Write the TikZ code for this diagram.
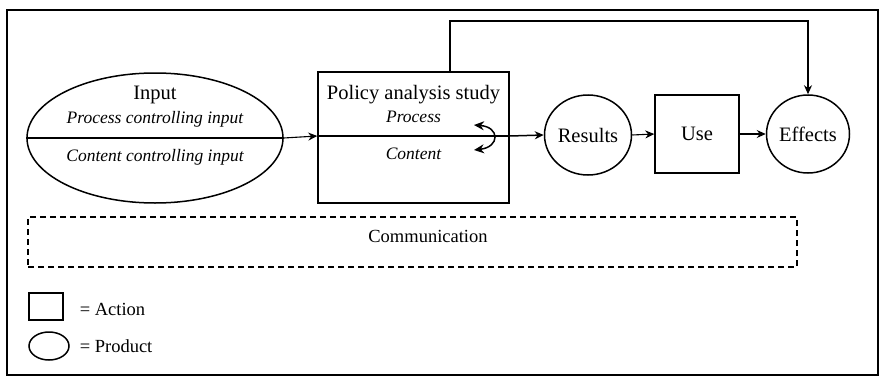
\documentclass[tikz,border=0pt]{standalone}
\usepackage{fontspec}
\setmainfont{Liberation Serif}
\usetikzlibrary{arrows.meta,shapes.geometric}
\begin{document}
\begin{tikzpicture}[x=1pt,y=-1pt,
  line width=1.5pt,
  every node/.style={inner sep=0pt},
  main/.style={font=\fontsize{20.5}{23}\selectfont},
  plain/.style={font=\fontsize{18.5}{21}\selectfont},
  sub/.style={font=\fontsize{17.5}{20}\selectfont\itshape},
  arr/.style={line width=1.1pt,-{Stealth[length=9pt,width=8pt]}},
  action/.style={draw,rectangle},
  product/.style={draw,ellipse},
  band/.style={draw,rectangle,line width=1.3pt,dash pattern=on 6pt off 4pt}]
\useasboundingbox (0,0) rectangle (887,380);
% outer frame
\draw (7,10) rectangle (878,375);

% input ellipse, split into process and content parts
\node[product,minimum width=256pt,minimum height=130pt] (input) at (155,138) {};
\draw (input.west) -- (input.east);
\node[main] (inputlbl) at (155,95) {Input};
\node[sub] (inproc) at (155,119) {Process controlling input};
\node[sub] (incont) at (155,157) {Content controlling input};

% policy analysis study box
\node[action,minimum width=191pt,minimum height=131pt] (study) at (413.5,137.5) {};
\draw (study.west |- 0,136) coordinate (sw) -- (study.east |- 0,136) coordinate (se);
\node[main] (studylbl) at (413.5,95) {Policy analysis study};
\node[sub] (sproc) at (413.5,117) {Process};
\node[sub] (scont) at (413.5,154) {Content};
\coordinate (cA) at (474,125);
\coordinate (cB) at (474,150);
\draw[{Stealth[length=10pt,width=9pt]}-{Stealth[length=10pt,width=9pt]}]
  (cA) .. controls (500,127) and (500,147) .. (cB);

% chain of results, use and effects
\node[product,minimum width=87pt,minimum height=80pt] (results) at (588,135) {};
\node[main] at (results) {Results};
\node[action,minimum width=84pt,minimum height=78pt] (use) at (697,134) {};
\node[main] at (use) {Use};
\node[product,minimum width=83pt,minimum height=78pt] (effects) at (808,134) {};
\node[main] at (effects) {Effects};

% connectors
\draw[arr] (input.east) -- (sw);
\draw[arr,line width=1.5pt] (se) -- (results.west);
\draw[arr] (results.east) -- (use.west);
\draw[arr] (use.east) -- (effects.west);
\coordinate (ftop) at (450,21);
\draw[arr,line width=1.5pt] (study.north -| ftop) -- (ftop) -| (effects.north);

% communication band
\node[band,minimum width=769pt,minimum height=50pt] (comm) at (412.5,242) {};
\node[plain] (commlbl) at (428,236) {Communication};

% legend
\node[action,minimum width=34pt,minimum height=27pt] (legA) at (46,306.5) {};
\node[plain,anchor=west] at (79,309) {= Action};
\node[product,minimum width=40pt,minimum height=28pt] (legP) at (49,346) {};
\node[plain,anchor=west] at (79,346) {= Product};
\end{tikzpicture}
\end{document}
